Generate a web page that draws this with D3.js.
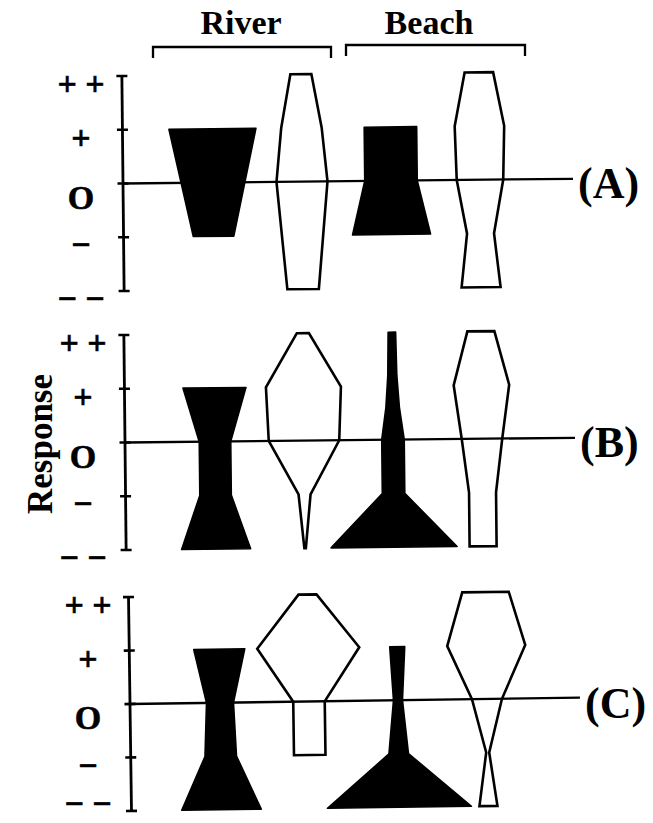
<!DOCTYPE html>
<html>
<head>
<meta charset="utf-8">
<script src="https://cdn.jsdelivr.net/npm/d3@7"></script>
<style>
html,body{margin:0;padding:0;background:#fff;}
svg{display:block;}
text{font-family:"Liberation Serif","Times New Roman",serif;font-weight:bold;fill:#000;}
</style>
</head>
<body>
<svg id="chart" width="653" height="823"></svg>
<script>
// ---------- data ----------
const panelLabels = ["(A)", "(B)", "(C)"];
const sites = ["River", "Beach"];
const groups = ["River-filled", "River-open", "Beach-filled", "Beach-open"];
const tickValues = [2, 1, 0, -1, -2];
const tickLabels = ["+ +", "+", "O", "\u2212", "\u2212 \u2212"];
const yAxisTitle = "Response";

// [response level, relative width]
const panelA_riverFilled = [[1, 0.58], [-1, 0.27]];
const panelA_riverOpen   = [[2, 0.14], [1, 0.27], [0, 0.34], [-2, 0.21]];
const panelA_beachFilled = [[1, 0.35], [0, 0.35], [-1, 0.52]];
const panelA_beachOpen   = [[2, 0.19], [1, 0.33], [0, 0.31], [-1, 0.18], [-2, 0.26]];

const panelB_riverFilled = [[1, 0.42], [0, 0.21], [-1, 0.21], [-2, 0.46]];
const panelB_riverOpen   = [[2, 0.08], [1, 0.50], [0, 0.47], [-1, 0.08], [-2, 0.01]];
const panelB_beachFilled = [[2, 0.05], [1.2, 0.06], [0.6, 0.09], [0, 0.15], [-1, 0.15], [-2, 0.84]];
const panelB_beachOpen   = [[2, 0.18], [1, 0.37], [0, 0.27], [-1, 0.18], [-2, 0.18]];

const panelC_riverFilled = [[1, 0.34], [0, 0.18], [-1, 0.21], [-2, 0.53]];
const panelC_riverOpen   = [[2, 0.12], [1, 0.68], [0, 0.21], [-1, 0.21]];
const panelC_beachFilled = [[1, 0.10], [0, 0.06], [-1, 0.13], [-2, 0.96]];
const panelC_beachOpen   = [[2, 0.31], [1, 0.52], [0, 0.20], [-1, 0.02], [-2, 0.12]];

const panelShapes = [
  [panelA_riverFilled, panelA_riverOpen, panelA_beachFilled, panelA_beachOpen],
  [panelB_riverFilled, panelB_riverOpen, panelB_beachFilled, panelB_beachOpen],
  [panelC_riverFilled, panelC_riverOpen, panelC_beachFilled, panelC_beachOpen]
];

// ---------- layout ----------
const layout = [
  {axisX: 123, top: 76,  bottom: 291, rot: -0.6},
  {axisX: 125, top: 335, bottom: 550, rot: -0.6},
  {axisX: 130, top: 597, bottom: 811, rot: -0.8}
];

const svg = d3.select("#chart");
const widthScale = d3.scaleLinear().domain([0, 1]).range([0, 150]);

// Site headers with brackets
const siteScale = d3.scalePoint().domain(sites).range([241, 429]);
const bracketSpan = [[153, 331, 47], [346, 525, 45]];
sites.forEach((s, i) => {
  svg.append("text")
    .attr("x", siteScale(s)).attr("y", 34)
    .attr("text-anchor", "middle")
    .attr("font-size", 34)
    .text(s);
  const b = bracketSpan[i];
  svg.append("path")
    .attr("d", `M${b[0]},${b[2] + 11}V${b[2]}H${b[1]}V${b[2] + 11}`)
    .attr("fill", "none").attr("stroke", "#000").attr("stroke-width", 2.3);
});

// Y-axis title
svg.append("text")
  .attr("transform", "translate(52,444) rotate(-90)")
  .attr("text-anchor", "middle")
  .attr("font-size", 35)
  .text(yAxisTitle);

const line = d3.line().x(d => d[0]).y(d => d[1]);

layout.forEach((L, pi) => {
  const y = d3.scaleLinear().domain([-2, 2]).range([L.bottom, L.top]);
  const x = d3.scalePoint().domain(groups).range([L.axisX + 90, L.axisX + 357]);
  const y0 = y(0);

  // tick labels
  tickValues.forEach((v, i) => {
    let ty = y(v) + (v === 0 ? 25 : 19);
    ty = Math.min(ty, 815);
    svg.append("text")
      .attr("x", L.axisX - 42)
      .attr("y", ty)
      .attr("text-anchor", "middle")
      .attr("font-size", 34)
      .attr("stroke", "#000").attr("stroke-width", 0.6)
      .text(tickLabels[i]);
  });

  const g = svg.append("g")
    .attr("transform", `rotate(${L.rot},${L.axisX},${y0})`);

  // shapes
  groups.forEach((grp, gi) => {
    const pts = panelShapes[pi][gi];
    const cx = x(grp);
    const left = pts.map(d => [cx - widthScale(d[1]) / 2, y(d[0])]);
    const right = pts.slice().reverse().map(d => [cx + widthScale(d[1]) / 2, y(d[0])]);
    const filled = grp.endsWith("filled");
    g.append("path")
      .attr("d", line(left.concat(right)) + "Z")
      .attr("fill", filled ? "#000" : "#fff")
      .attr("stroke", "#000")
      .attr("stroke-width", filled ? 1.6 : 2.6)
      .attr("stroke-linejoin", filled ? "round" : "miter");
  });

  // zero line
  g.append("line")
    .attr("x1", L.axisX).attr("x2", L.axisX + 450)
    .attr("y1", y0).attr("y2", y0)
    .attr("stroke", "#000").attr("stroke-width", 2.3);

  // axis
  g.append("line")
    .attr("x1", L.axisX).attr("x2", L.axisX)
    .attr("y1", y(2)).attr("y2", y(-2))
    .attr("stroke", "#000").attr("stroke-width", 2.8);
  g.selectAll(".tick").data(tickValues).enter().append("line")
    .attr("x1", L.axisX - 5.5).attr("x2", L.axisX + 5.5)
    .attr("y1", d => y(d)).attr("y2", d => y(d))
    .attr("stroke", "#000").attr("stroke-width", 2.6);

  // panel label
  svg.append("text")
    .attr("x", L.axisX + 455)
    .attr("y", y0 + 14)
    .attr("font-size", 44)
    .text(panelLabels[pi]);
});
</script>
</body>
</html>
